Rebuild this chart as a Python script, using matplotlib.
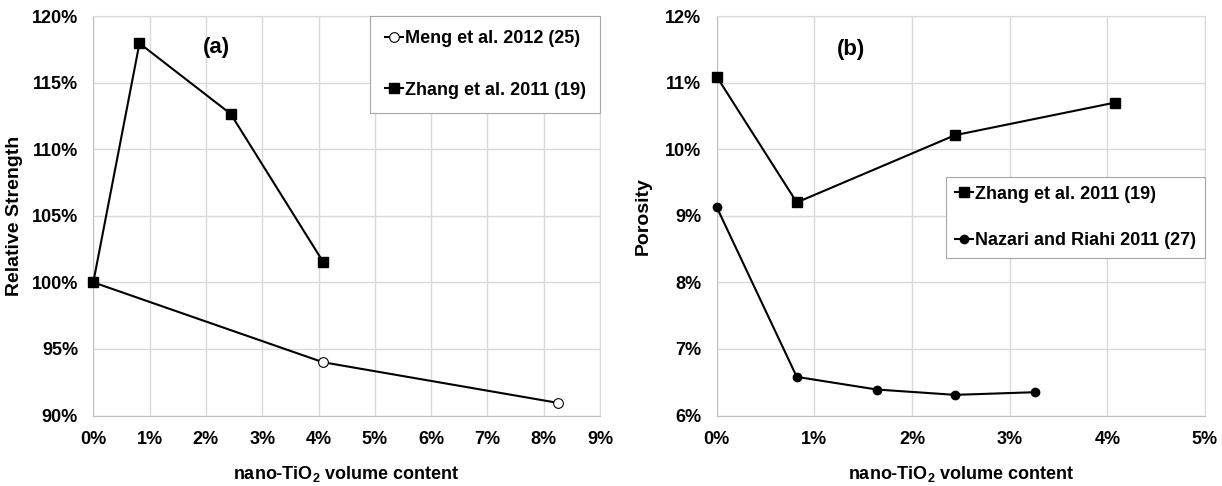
import matplotlib
matplotlib.use("Agg")
import matplotlib.pyplot as plt
from matplotlib.ticker import FuncFormatter

plt.rcParams['font.family'] = ['Liberation Sans', 'DejaVu Sans']
plt.rcParams['font.weight'] = 'bold'
plt.rcParams['mathtext.fontset'] = 'custom'
plt.rcParams['mathtext.rm'] = 'Liberation Sans:bold'
plt.rcParams['mathtext.bf'] = 'Liberation Sans:bold'

# Panel (a): relative strength
meng_x = [0.0, 4.08, 8.25]
meng_y = [100.0, 94.0, 90.95]
zhang_a_x = [0.0, 0.82, 2.44, 4.08]
zhang_a_y = [100.0, 117.95, 112.65, 101.55]

# Panel (b): porosity
zhang_b_x = [0.0, 0.82, 2.44, 4.08]
zhang_b_y = [11.09, 9.2, 10.21, 10.7]
nazari_x = [0.0, 0.82, 1.64, 2.44, 3.26]
nazari_y = [9.13, 6.58, 6.39, 6.31, 6.35]

a_xticks = list(range(0, 10))
a_yticks = [90, 95, 100, 105, 110, 115, 120]
b_xticks = list(range(0, 6))
b_yticks = [6, 7, 8, 9, 10, 11, 12]

xlabel = r'nano-TiO$_{2}$ volume content'

W, H = 1222, 486
fig = plt.figure(figsize=(W / 100, H / 100), dpi=100)
ax1 = fig.add_axes([93.3 / W, 70.5 / H, 506.7 / W, 399.5 / H])
ax2 = fig.add_axes([716.7 / W, 70.5 / H, 488.3 / W, 399.5 / H])

pct = FuncFormatter(lambda v, p: f"{v:.0f}%")
TICK_FS = 13
LAB_FS = 13
LEG_FS = 13

def style(ax, xt, yt):
    ax.set_xticks(xt)
    ax.set_yticks(yt)
    ax.set_xlim(xt[0], xt[-1])
    ax.set_ylim(yt[0], yt[-1])
    ax.xaxis.set_major_formatter(pct)
    ax.yaxis.set_major_formatter(pct)
    ax.grid(True, color='#d9d9d9', linewidth=1.0)
    ax.set_axisbelow(True)
    for s in ax.spines.values():
        s.set_color('#d9d9d9')
    ax.spines['left'].set_color('#bfbfbf')
    ax.spines['bottom'].set_color('#bfbfbf')
    ax.tick_params(axis='x', length=0, pad=11.5, labelsize=TICK_FS)
    ax.tick_params(axis='y', length=0, pad=11, labelsize=TICK_FS)
    for lab in ax.get_xticklabels() + ax.get_yticklabels():
        lab.set_fontweight('bold')
    ax.set_xlabel(xlabel, fontsize=LAB_FS, fontweight='bold', labelpad=11)

style(ax1, a_xticks, a_yticks)
style(ax2, b_xticks, b_yticks)

ax1.plot(meng_x, meng_y, color='black', lw=1.5, marker='o', ms=7,
         mfc='white', mec='black', mew=0.8, label='Meng et al. 2012 (25)', clip_on=False, zorder=3)
ax1.plot(zhang_a_x, zhang_a_y, color='black', lw=1.5, marker='s', ms=7.5,
         mfc='black', mec='black', label='Zhang et al. 2011 (19)', clip_on=False, zorder=3)
ax1.set_ylabel('Relative Strength', fontsize=14, fontweight='bold', labelpad=6)
ax1.text(2.18, 117.6, '(a)', fontsize=16, fontweight='bold', ha='center', va='center')
leg1 = ax1.legend(loc='upper right', bbox_to_anchor=(1.0, 1.0), handlelength=1.0,
                  handletextpad=0.1, labelspacing=1.9, borderpad=0.8,
                  borderaxespad=0, fancybox=False, frameon=True, framealpha=1,
                  prop={'weight': 'bold', 'size': LEG_FS})
leg1.get_frame().set_edgecolor('#a6a6a6')
leg1.get_frame().set_linewidth(0.8)

ax2.plot(zhang_b_x, zhang_b_y, color='black', lw=1.5, marker='s', ms=7.5,
         mfc='black', mec='black', label='Zhang et al. 2011 (19)', clip_on=False, zorder=3)
ax2.plot(nazari_x, nazari_y, color='black', lw=1.5, marker='o', ms=6,
         mfc='black', mec='black', label='Nazari and Riahi 2011 (27)', clip_on=False, zorder=3)
ax2.set_ylabel('Porosity', fontsize=14, fontweight='bold', labelpad=10)
ax2.text(1.375, 11.49, '(b)', fontsize=16, fontweight='bold', ha='center', va='center')
leg2 = ax2.legend(loc='upper right', bbox_to_anchor=(1.0, 0.598), handlelength=1.0,
                  handletextpad=0.1, labelspacing=1.65, borderpad=0.5,
                  borderaxespad=0, fancybox=False, frameon=True, framealpha=1,
                  prop={'weight': 'bold', 'size': LEG_FS})
leg2.get_frame().set_edgecolor('#a6a6a6')
leg2.get_frame().set_linewidth(0.8)

fig.savefig('out.png', dpi=100, facecolor='white')
